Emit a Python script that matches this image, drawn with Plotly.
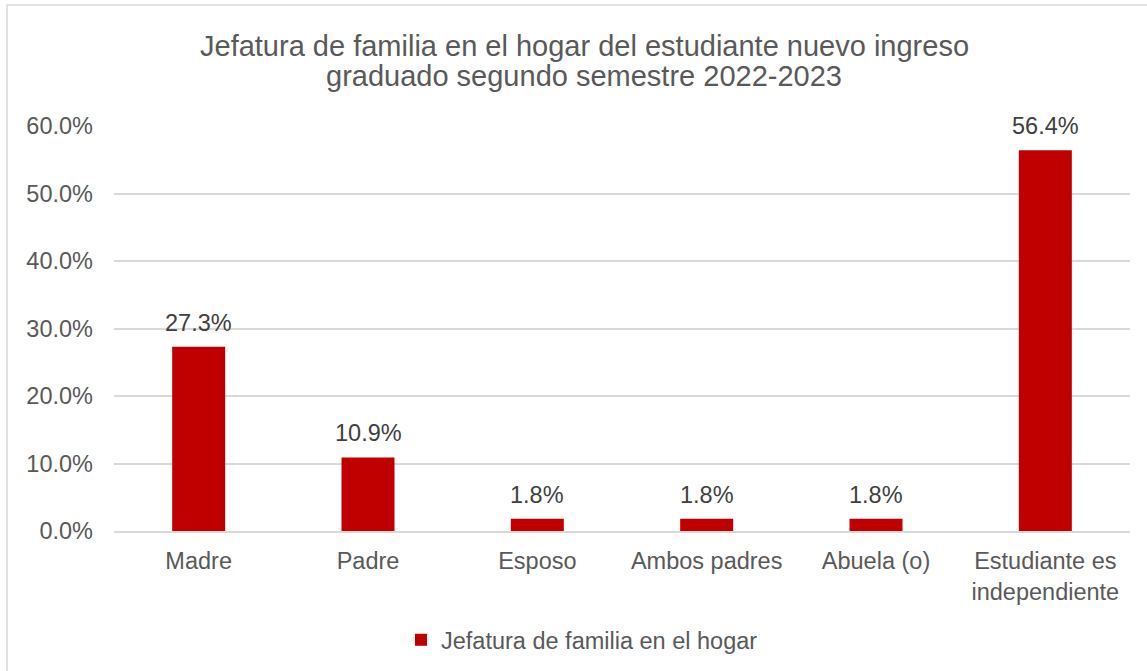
import plotly.graph_objects as go

categories = ["Madre", "Padre", "Esposo", "Ambos padres", "Abuela (o)", "Estudiante es<br>independiente"]
values = [0.273, 0.109, 0.018, 0.018, 0.018, 0.564]
series_name = "Jefatura de familia en el hogar"
title_lines = ["Jefatura de familia en el hogar del estudiante nuevo ingreso",
               "graduado segundo semestre 2022-2023"]
y_ticks = [0, 0.1, 0.2, 0.3, 0.4, 0.5, 0.6]

W, H = 1147, 671
L, R, T, B = 114, 17, 126, 140
pw, ph = W - L - R, H - T - B
FONT = "Liberation Sans, Arial"
FS = 23.5

fig = go.Figure()
fig.add_trace(go.Bar(
    x=categories, y=values, name=series_name,
    marker=dict(color="#C00000", line=dict(width=0)),
    showlegend=True,
))

annotations = []
for c, v in zip(categories, values):
    annotations.append(dict(x=c, y=v, xref="x", yref="y", text=f"{v*100:.1f}%",
                            showarrow=False, yanchor="bottom", yshift=9,
                            font=dict(family=FONT, size=FS, color="#404040")))
title_y = [46, 76]
for line, py in zip(title_lines, title_y):
    annotations.append(dict(x=(584 - L) / pw, y=((H - B) - py) / ph, xref="paper", yref="paper",
                            text=line, showarrow=False, xanchor="center", yanchor="middle",
                            font=dict(family=FONT, size=29, color="#595959")))

fig.update_layout(
    width=W, height=H,
    margin=dict(l=L, r=R, t=T, b=B, autoexpand=False),
    paper_bgcolor="white", plot_bgcolor="white",
    font=dict(family=FONT, size=FS, color="#595959"),
    bargap=0.687,
    showlegend=True,
    legend=dict(orientation="h", x=(582 - L) / pw, xanchor="center", y=-(640 - (H - B)) / ph, yanchor="middle",
                font=dict(size=FS, color="#595959"), itemwidth=30),
    xaxis=dict(showline=True, linecolor="#D9D9D9", linewidth=1.5, ticks="",
               ticklabelstandoff=8, tickfont=dict(size=FS, color="#595959")),
    yaxis=dict(range=[0, 0.6], tickvals=y_ticks, tickformat=".1%",
               showgrid=True, gridcolor="#D9D9D9", gridwidth=1.5, zeroline=False,
               ticks="", ticklabelstandoff=20,
               tickfont=dict(size=FS, color="#595959")),
    annotations=annotations,
    shapes=[dict(type="rect", xref="paper", yref="paper",
                 x0=(7 - L) / pw, x1=(W + 10 - L) / pw,
                 y0=-(H + 10 - (H - B)) / ph, y1=((H - B) - 5) / ph,
                 line=dict(color="#D9D9D9", width=1.5), fillcolor="rgba(0,0,0,0)", layer="below")],
)

fig.write_html("out.html", config={"displayModeBar": False},
               post_script="document.body.style.margin='0';document.body.style.overflow='hidden';")
